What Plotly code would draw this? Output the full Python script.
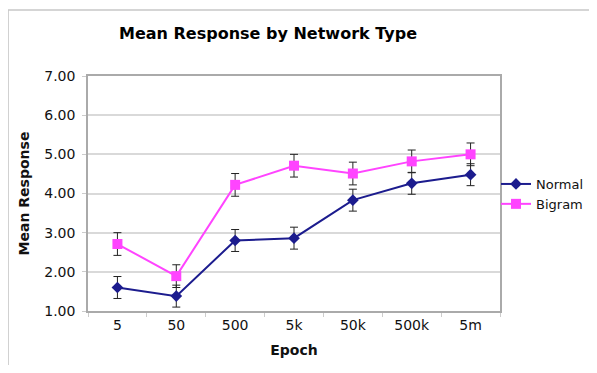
import plotly.graph_objects as go

epochs = ["5", "50", "500", "5k", "50k", "500k", "5m"]
normal = [1.60, 1.38, 2.80, 2.86, 3.83, 4.26, 4.48]
normal_err = [0.28, 0.28, 0.28, 0.28, 0.28, 0.28, 0.28]
bigram = [2.71, 1.89, 4.22, 4.71, 4.51, 4.82, 5.00]
bigram_err = [0.29, 0.29, 0.29, 0.29, 0.29, 0.29, 0.29]

FONT = "DejaVu Sans"
W, H = 581, 357  # page body adds an 8px offset

fig = go.Figure()
fig.add_trace(go.Scatter(
    x=epochs, y=normal, name="Normal", mode="lines+markers",
    line=dict(color="#1c1c8e", width=2),
    marker=dict(symbol="diamond", size=9, color="#1c1c8e"),
    error_y=dict(type="data", array=normal_err, color="#222222", thickness=1, width=4),
))
fig.add_trace(go.Scatter(
    x=epochs, y=bigram, name="Bigram", mode="lines+markers",
    line=dict(color="#ff44ff", width=2),
    marker=dict(symbol="square", size=10, color="#ff44ff"),
    error_y=dict(type="data", array=bigram_err, color="#222222", thickness=1, width=4),
))

fig.update_layout(
    width=W, height=H,
    margin=dict(l=80, r=89, t=68, b=54, autoexpand=False),
    paper_bgcolor="white", plot_bgcolor="white",
    font=dict(family=FONT, size=14, color="#111111"),
    title=dict(text="<b>Mean Response by Network Type</b>", x=260/W, xanchor="center",
               xref="container", y=1 - 25/H, yref="container", yanchor="middle",
               font=dict(family=FONT, size=16, color="#000000")),
    showlegend=True,
    legend=dict(xref="container", yref="container", x=1.0, y=1 - 161/H,
                xanchor="right", yanchor="top", borderwidth=0,
                font=dict(family=FONT, size=13, color="#111111"),
                bgcolor="rgba(0,0,0,0)", tracegroupgap=2),
    shapes=[dict(type="rect", xref="paper", yref="paper",
                 x0=-0.194, x1=1.4, y0=-0.6, y1=1.281,
                 line=dict(color="#c8c8c8", width=1.5), layer="below")],
)
fig.update_xaxes(
    type="category", range=[-0.5, 6.5], automargin=False,
    tickson="boundaries", ticks="outside", ticklen=4, tickcolor="#cccccc",
    showline=True, linecolor="#aaaaaa", linewidth=1.5, mirror=True,
    showgrid=False,
    title=dict(text="<b>Epoch</b>", font=dict(family=FONT, size=14), standoff=14),
    tickfont=dict(family=FONT, size=14),
)
fig.update_yaxes(
    range=[1, 7], dtick=1, tick0=1, tickformat=".2f", automargin=False,
    ticks="outside", ticklen=4, tickcolor="#cccccc", ticklabelstandoff=4,
    showline=True, linecolor="#aaaaaa", linewidth=1.5, mirror=True,
    showgrid=True, gridcolor="#d9d9d9", gridwidth=1.5, zeroline=False,
    title=dict(text="<b>Mean Response</b>", font=dict(family=FONT, size=14), standoff=11),
    tickfont=dict(family=FONT, size=14),
)

fig.write_html("out.html")
